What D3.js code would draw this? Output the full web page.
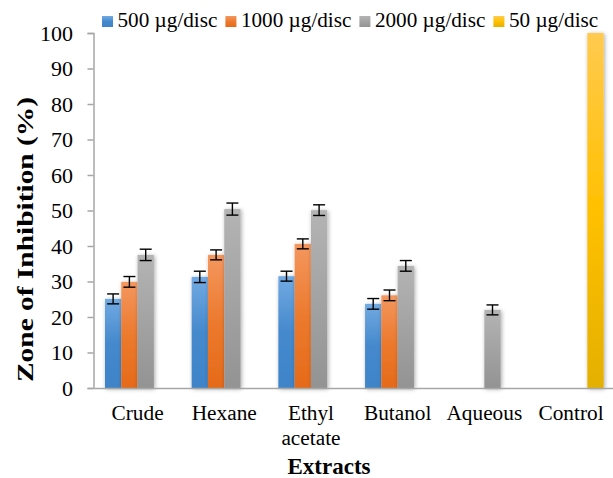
<!DOCTYPE html>
<html><head><meta charset="utf-8">
<script src="https://cdn.jsdelivr.net/npm/d3@7"></script>
<style>html,body{margin:0;padding:0;background:#fff;}svg{display:block;} svg text{font-family:"Liberation Serif","Times New Roman",Times,"DejaVu Serif",serif !important;}</style>
</head><body>
<svg id="c" width="613" height="478"></svg>
<script>
const categories = ["Crude", "Hexane", "Ethyl\nacetate", "Butanol", "Aqueous", "Control"];
const seriesNames = ["500 µg/disc", "1000 µg/disc", "2000 µg/disc", "50 µg/disc"];
const s500  = [25.1, 31.3, 31.5, 23.7, null, null];
const s1000 = [29.9, 37.5, 40.6, 26.1, null, null];
const s2000 = [37.5, 50.4, 50.1, 34.4, 22.0, null];
const s50   = [null, null, null, null, null, 100];
const e500  = [1.4, 1.6, 1.4, 1.5, null, null];
const e1000 = [1.5, 1.4, 1.4, 1.5, null, null];
const e2000 = [1.6, 1.7, 1.5, 1.5, 1.4, null];
const e50   = [null, null, null, null, null, null];
const yTicks = [0,10,20,30,40,50,60,70,80,90,100];

const values = [s500, s1000, s2000, s50];
const errors = [e500, e1000, e2000, e50];
const grads = [
  ["#72aae2", "#4589cd", "#3f84c8"],
  ["#f4975f", "#ec7a2e", "#e56a19"],
  ["#b4b4b4", "#a3a3a3", "#939393"],
  ["#ffca4f", "#ffc000", "#e4b000"]
];

const svg = d3.select("#c");
const defs = svg.append("defs");
grads.forEach((g, i) => {
  const lg = defs.append("linearGradient").attr("id", "g" + i)
    .attr("x1", 0).attr("y1", 0).attr("x2", 0).attr("y2", 1);
  lg.append("stop").attr("offset", "0%").attr("stop-color", g[0]);
  lg.append("stop").attr("offset", "50%").attr("stop-color", g[1]);
  lg.append("stop").attr("offset", "100%").attr("stop-color", g[2]);
});
const f = defs.append("filter").attr("id", "sh").attr("x", "-50%").attr("y", "-10%").attr("width", "200%").attr("height", "120%");
f.append("feDropShadow").attr("dx", 1).attr("dy", 1).attr("stdDeviation", 2.2).attr("flood-color", "#000").attr("flood-opacity", 0.35);

const x0 = d3.scaleBand().domain(categories).range([94.2, 614.4]).padding(0);
const x1 = d3.scaleBand().domain(seriesNames).range([0, x0.bandwidth()]).paddingInner(0).paddingOuter(0.66);
const y = d3.scaleLinear().domain([0, 100]).range([388, 33]);

// bars
const barsG = svg.append("g");
values.forEach((arr, si) => {
  const data = categories.map((c, ci) => ({c, v: arr[ci], e: errors[si][ci]})).filter(d => d.v != null);
  barsG.selectAll(null).data(data).enter().append("rect")
    .attr("x", d => x0(d.c) + x1(seriesNames[si]))
    .attr("y", d => y(d.v))
    .attr("width", x1.bandwidth())
    .attr("height", d => y(0) - y(d.v))
    .attr("fill", "url(#g" + si + ")")
    .attr("filter", "url(#sh)");
});
// error bars
values.forEach((arr, si) => {
  const data = categories.map((c, ci) => ({c, v: arr[ci], e: errors[si][ci]})).filter(d => d.v != null && d.e != null);
  const g = svg.append("g").attr("stroke", "#000").attr("stroke-width", 1.4).attr("fill", "none");
  data.forEach(d => {
    const cx = x0(d.c) + x1(seriesNames[si]) + x1.bandwidth() / 2;
    const hw = 6;
    g.append("line").attr("x1", cx).attr("x2", cx).attr("y1", y(d.v + d.e)).attr("y2", y(d.v - d.e));
    g.append("line").attr("x1", cx - hw).attr("x2", cx + hw).attr("y1", y(d.v + d.e)).attr("y2", y(d.v + d.e));
    g.append("line").attr("x1", cx - hw).attr("x2", cx + hw).attr("y1", y(d.v - d.e)).attr("y2", y(d.v - d.e));
  });
});

// y axis
const yAxis = svg.append("g").attr("transform", "translate(93.5,0)")
  .call(d3.axisLeft(y).tickValues(yTicks).tickSize(6).tickPadding(14));
yAxis.attr("font-family", null);
yAxis.select(".domain").attr("stroke", "#a6a6a6").attr("stroke-width", 1.5);
yAxis.selectAll(".tick line").attr("stroke", "#a6a6a6").attr("stroke-width", 1.5);
yAxis.selectAll(".tick text").attr("font-size", "22px").attr("fill", "#000").attr("dy", "0.34em").attr("x", -20.5);

// x axis
const xAxis = svg.append("g").attr("transform", "translate(0,388)")
  .call(d3.axisBottom(x0).tickSize(0).tickFormat(""));
xAxis.attr("font-family", null);
xAxis.select(".domain").attr("stroke", "#a6a6a6").attr("stroke-width", 1.5);
xAxis.selectAll(".tick").each(function(d) {
  const t = d3.select(this).append("text").attr("fill", "#000").attr("font-size", "21.3px")
    .attr("text-anchor", "middle");
  d.split("\n").forEach((ln, i) => {
    t.append("tspan").attr("x", 0).attr("y", 32 + i * 25).text(ln);
  });
});

// axis titles
svg.append("text").attr("x", 329).attr("y", 473.5).attr("text-anchor", "middle")
  .attr("font-weight", "bold").attr("font-size", "23px").text("Extracts");
svg.append("text").attr("transform", "translate(32.5,382) rotate(-90)").attr("textLength", 285).attr("lengthAdjust", "spacingAndGlyphs")
  .attr("font-weight", "bold").attr("font-size", "23.5px").text("Zone of Inhibition (%)");

// legend
const leg = svg.append("g");
let lx = 102;
seriesNames.forEach((n, i) => {
  leg.append("rect").attr("x", lx).attr("y", 16).attr("width", 11).attr("height", 11).attr("fill", "url(#g" + i + ")");
  const t = leg.append("text").attr("x", lx + 15.5).attr("y", 27).attr("font-size", "21.2px").attr("fill", "#000").text(n);
  lx += 15.5 + t.node().getComputedTextLength() + 8;
});
</script>
</body></html>
